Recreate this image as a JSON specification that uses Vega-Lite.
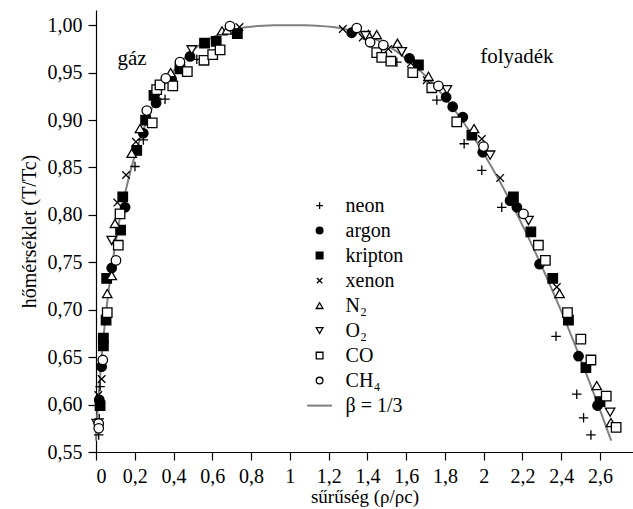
{
  "$schema": "https://vega.github.io/schema/vega-lite/v6.json",
  "width": 537,
  "height": 442,
  "autosize": {"type": "none"},
  "padding": {"left": 96, "top": 10, "right": 0, "bottom": 57},
  "background": "white",
  "config": {
    "view": {"stroke": null},
    "font": "Liberation Serif, DejaVu Serif, serif",
    "locale": {"number": {"decimal": ",", "thousands": " ", "grouping": [3], "currency": ["", ""]}},
    "axis": {
      "grid": false,
      "domainColor": "black",
      "domainWidth": 1.2,
      "tickColor": "black",
      "tickWidth": 1.2,
      "tickSize": 8,
      "labelFont": "Liberation Serif, DejaVu Serif, serif",
      "labelFontSize": 20,
      "labelColor": "black",
      "titleFont": "Liberation Serif, DejaVu Serif, serif",
      "titleFontSize": 20,
      "titleFontWeight": "normal",
      "titleColor": "black"
    },
    "legend": {
      "orient": "none",
      "legendX": 213.6,
      "legendY": 185.6,
      "padding": 0,
      "symbolSize": 45,
      "labelOffset": 16,
      "rowPadding": 5,
      "labelFont": "Liberation Serif, DejaVu Serif, serif",
      "labelFontSize": 20,
      "labelColor": "black",
      "labelLimit": 200
    }
  },
  "datasets": {
    "pts": [
      {"series": "neon", "rho": 0.52, "t": 0.964},
      {"series": "neon", "rho": 0.356, "t": 0.922},
      {"series": "neon", "rho": 0.244, "t": 0.879},
      {"series": "neon", "rho": 0.201, "t": 0.851},
      {"series": "neon", "rho": 0.021, "t": 0.619},
      {"series": "neon", "rho": 0.017, "t": 0.585},
      {"series": "neon", "rho": 0.014, "t": 0.568},
      {"series": "neon", "rho": 1.552, "t": 0.961},
      {"series": "neon", "rho": 1.758, "t": 0.921},
      {"series": "neon", "rho": 1.899, "t": 0.875},
      {"series": "neon", "rho": 1.99, "t": 0.847},
      {"series": "neon", "rho": 2.093, "t": 0.808},
      {"series": "neon", "rho": 2.373, "t": 0.672},
      {"series": "neon", "rho": 2.48, "t": 0.611},
      {"series": "neon", "rho": 2.515, "t": 0.586},
      {"series": "neon", "rho": 2.553, "t": 0.568},
      {"series": "argon", "rho": 0.485, "t": 0.967},
      {"series": "argon", "rho": 0.39, "t": 0.943},
      {"series": "argon", "rho": 0.31, "t": 0.918},
      {"series": "argon", "rho": 0.244, "t": 0.886},
      {"series": "argon", "rho": 0.15, "t": 0.808},
      {"series": "argon", "rho": 0.081, "t": 0.744},
      {"series": "argon", "rho": 0.029, "t": 0.64},
      {"series": "argon", "rho": 0.017, "t": 0.605},
      {"series": "argon", "rho": 1.319, "t": 0.992},
      {"series": "argon", "rho": 1.617, "t": 0.965},
      {"series": "argon", "rho": 1.806, "t": 0.924},
      {"series": "argon", "rho": 1.84, "t": 0.914},
      {"series": "argon", "rho": 1.892, "t": 0.903},
      {"series": "argon", "rho": 1.995, "t": 0.866},
      {"series": "argon", "rho": 2.136, "t": 0.815},
      {"series": "argon", "rho": 2.171, "t": 0.808},
      {"series": "argon", "rho": 2.288, "t": 0.748},
      {"series": "argon", "rho": 2.489, "t": 0.651},
      {"series": "argon", "rho": 2.587, "t": 0.599},
      {"series": "kripton", "rho": 0.729, "t": 0.991},
      {"series": "kripton", "rho": 0.56, "t": 0.981},
      {"series": "kripton", "rho": 0.62, "t": 0.983},
      {"series": "kripton", "rho": 0.433, "t": 0.954},
      {"series": "kripton", "rho": 0.299, "t": 0.926},
      {"series": "kripton", "rho": 0.256, "t": 0.9},
      {"series": "kripton", "rho": 0.21, "t": 0.868},
      {"series": "kripton", "rho": 0.138, "t": 0.819},
      {"series": "kripton", "rho": 0.127, "t": 0.784},
      {"series": "kripton", "rho": 0.055, "t": 0.733},
      {"series": "kripton", "rho": 0.052, "t": 0.689},
      {"series": "kripton", "rho": 0.038, "t": 0.67},
      {"series": "kripton", "rho": 0.038, "t": 0.662},
      {"series": "kripton", "rho": 0.021, "t": 0.599},
      {"series": "kripton", "rho": 1.663, "t": 0.958},
      {"series": "kripton", "rho": 1.939, "t": 0.884},
      {"series": "kripton", "rho": 2.153, "t": 0.819},
      {"series": "kripton", "rho": 2.243, "t": 0.782},
      {"series": "kripton", "rho": 2.356, "t": 0.733},
      {"series": "kripton", "rho": 2.437, "t": 0.689},
      {"series": "kripton", "rho": 2.527, "t": 0.639},
      {"series": "kripton", "rho": 2.6, "t": 0.603},
      {"series": "xenon", "rho": 0.74, "t": 0.998},
      {"series": "xenon", "rho": 0.32, "t": 0.925},
      {"series": "xenon", "rho": 0.206, "t": 0.877},
      {"series": "xenon", "rho": 0.155, "t": 0.842},
      {"series": "xenon", "rho": 0.11, "t": 0.813},
      {"series": "xenon", "rho": 0.029, "t": 0.627},
      {"series": "xenon", "rho": 0.012, "t": 0.61},
      {"series": "xenon", "rho": 1.273, "t": 0.996},
      {"series": "xenon", "rho": 1.376, "t": 0.987},
      {"series": "xenon", "rho": 1.508, "t": 0.975},
      {"series": "xenon", "rho": 1.624, "t": 0.96},
      {"series": "xenon", "rho": 1.706, "t": 0.942},
      {"series": "xenon", "rho": 1.99, "t": 0.88},
      {"series": "xenon", "rho": 2.085, "t": 0.839},
      {"series": "xenon", "rho": 2.377, "t": 0.724},
      {"series": "N₂", "rho": 0.65, "t": 0.994},
      {"series": "N₂", "rho": 0.676, "t": 0.995},
      {"series": "N₂", "rho": 0.385, "t": 0.95},
      {"series": "N₂", "rho": 0.227, "t": 0.891},
      {"series": "N₂", "rho": 0.184, "t": 0.865},
      {"series": "N₂", "rho": 0.098, "t": 0.791},
      {"series": "N₂", "rho": 0.081, "t": 0.736},
      {"series": "N₂", "rho": 0.058, "t": 0.717},
      {"series": "N₂", "rho": 1.405, "t": 0.99},
      {"series": "N₂", "rho": 1.448, "t": 0.99},
      {"series": "N₂", "rho": 1.555, "t": 0.981},
      {"series": "N₂", "rho": 1.715, "t": 0.946},
      {"series": "N₂", "rho": 1.95, "t": 0.891},
      {"series": "N₂", "rho": 2.391, "t": 0.717},
      {"series": "N₂", "rho": 2.583, "t": 0.62},
      {"series": "N₂", "rho": 2.656, "t": 0.581},
      {"series": "O₂", "rho": 0.494, "t": 0.974},
      {"series": "O₂", "rho": 0.081, "t": 0.773},
      {"series": "O₂", "rho": 0.004, "t": 0.58},
      {"series": "O₂", "rho": 1.39, "t": 0.989},
      {"series": "O₂", "rho": 1.577, "t": 0.972},
      {"series": "O₂", "rho": 1.81, "t": 0.932},
      {"series": "O₂", "rho": 2.033, "t": 0.863},
      {"series": "O₂", "rho": 2.231, "t": 0.794},
      {"series": "O₂", "rho": 2.652, "t": 0.592},
      {"series": "CO", "rho": 0.557, "t": 0.963},
      {"series": "CO", "rho": 0.602, "t": 0.969},
      {"series": "CO", "rho": 0.64, "t": 0.974},
      {"series": "CO", "rho": 0.471, "t": 0.951},
      {"series": "CO", "rho": 0.396, "t": 0.936},
      {"series": "CO", "rho": 0.313, "t": 0.932},
      {"series": "CO", "rho": 0.33, "t": 0.937},
      {"series": "CO", "rho": 0.29, "t": 0.897},
      {"series": "CO", "rho": 0.124, "t": 0.801},
      {"series": "CO", "rho": 0.115, "t": 0.768},
      {"series": "CO", "rho": 0.058, "t": 0.697},
      {"series": "CO", "rho": 1.448, "t": 0.971},
      {"series": "CO", "rho": 1.474, "t": 0.966},
      {"series": "CO", "rho": 1.521, "t": 0.962},
      {"series": "CO", "rho": 1.634, "t": 0.95},
      {"series": "CO", "rho": 1.732, "t": 0.934},
      {"series": "CO", "rho": 1.861, "t": 0.898},
      {"series": "CO", "rho": 2.282, "t": 0.768},
      {"series": "CO", "rho": 2.318, "t": 0.752},
      {"series": "CO", "rho": 2.432, "t": 0.697},
      {"series": "CO", "rho": 2.501, "t": 0.669},
      {"series": "CO", "rho": 2.553, "t": 0.647},
      {"series": "CO", "rho": 2.632, "t": 0.609},
      {"series": "CO", "rho": 2.683, "t": 0.576},
      {"series": "CH₄", "rho": 0.691, "t": 0.999},
      {"series": "CH₄", "rho": 0.433, "t": 0.961},
      {"series": "CH₄", "rho": 0.36, "t": 0.944},
      {"series": "CH₄", "rho": 0.262, "t": 0.91},
      {"series": "CH₄", "rho": 0.103, "t": 0.752},
      {"series": "CH₄", "rho": 0.035, "t": 0.647},
      {"series": "CH₄", "rho": 0.014, "t": 0.58},
      {"series": "CH₄", "rho": 0.014, "t": 0.575},
      {"series": "CH₄", "rho": 1.345, "t": 0.997},
      {"series": "CH₄", "rho": 1.414, "t": 0.982},
      {"series": "CH₄", "rho": 1.482, "t": 0.979},
      {"series": "CH₄", "rho": 1.766, "t": 0.936},
      {"series": "CH₄", "rho": 1.999, "t": 0.872},
      {"series": "CH₄", "rho": 2.205, "t": 0.801}
    ],
    "curve": [
      {"rho": 0.0, "t": 0.562},
      {"rho": 0.0044, "t": 0.58},
      {"rho": 0.0106, "t": 0.6},
      {"rho": 0.0175, "t": 0.62},
      {"rho": 0.0293, "t": 0.65},
      {"rho": 0.0535, "t": 0.7},
      {"rho": 0.085, "t": 0.75},
      {"rho": 0.1266, "t": 0.8},
      {"rho": 0.1827, "t": 0.85},
      {"rho": 0.2626, "t": 0.9},
      {"rho": 0.3313, "t": 0.93},
      {"rho": 0.3928, "t": 0.95},
      {"rho": 0.4788, "t": 0.97},
      {"rho": 0.54, "t": 0.98},
      {"rho": 0.6305, "t": 0.99},
      {"rho": 0.7045, "t": 0.995},
      {"rho": 0.781, "t": 0.998},
      {"rho": 0.8618, "t": 0.9995},
      {"rho": 0.9189, "t": 0.9999},
      {"rho": 1.0, "t": 1.0},
      {"rho": 1.0813, "t": 0.9999},
      {"rho": 1.1393, "t": 0.9995},
      {"rho": 1.222, "t": 0.998},
      {"rho": 1.303, "t": 0.995},
      {"rho": 1.3845, "t": 0.99},
      {"rho": 1.49, "t": 0.98},
      {"rho": 1.5662, "t": 0.97},
      {"rho": 1.6822, "t": 0.95},
      {"rho": 1.7737, "t": 0.93},
      {"rho": 1.8874, "t": 0.9},
      {"rho": 2.0423, "t": 0.85},
      {"rho": 2.1734, "t": 0.8},
      {"rho": 2.29, "t": 0.75},
      {"rho": 2.3965, "t": 0.7},
      {"rho": 2.4957, "t": 0.65},
      {"rho": 2.5525, "t": 0.62},
      {"rho": 2.5894, "t": 0.6},
      {"rho": 2.6256, "t": 0.58},
      {"rho": 2.6575, "t": 0.562}
    ],
    "notes": [
      {"label": "gáz", "rho": 0.186, "t": 0.9577},
      {"label": "folyadék", "rho": 2.171, "t": 0.96}
    ]
  },
  "encoding": {
    "x": {
      "field": "rho",
      "type": "quantitative",
      "scale": {"domain": [0, 2.77], "nice": false, "zero": false},
      "axis": {
        "title": "sűrűség (ρ/ρc)",
        "titleFontSize": 19,
        "values": [0, 0.2, 0.4, 0.6, 0.8, 1, 1.2, 1.4, 1.6, 1.8, 2, 2.2, 2.4, 2.6],
        "format": "~g",
        "labelPadding": 6,
        "titlePadding": 1
      }
    },
    "y": {
      "field": "t",
      "type": "quantitative",
      "scale": {"domain": [0.55, 1.016], "nice": false, "zero": false},
      "axis": {
        "title": "hőmérséklet (T/Tc)",
        "values": [0.55, 0.6, 0.65, 0.7, 0.75, 0.8, 0.85, 0.9, 0.95, 1.0],
        "format": ".2f",
        "labelPadding": 6,
        "titlePadding": 8
      }
    }
  },
  "layer": [
    {
      "data": {"name": "curve"},
      "mark": {"type": "line", "stroke": "#808080", "strokeWidth": 2, "interpolate": "monotone"},
      "encoding": {}
    },
    {
      "data": {"name": "pts"},
      "mark": {"type": "point", "size": 90, "opacity": 1},
      "encoding": {
        "shape": {
          "field": "series",
          "type": "nominal",
          "scale": {
            "domain": ["neon", "argon", "kripton", "xenon", "N₂", "O₂", "CO", "CH₄", "β = 1/3"],
            "range": ["M-1,0L1,0M0,-1L0,1", "circle", "square", "M-0.8,-0.8L0.8,0.8M-0.8,0.8L0.8,-0.8", "triangle-up", "triangle-down", "square", "circle", "M-3.7,0L3.7,0"]
          },
          "legend": {"title": null}
        },
        "fill": {
          "field": "series",
          "type": "nominal",
          "scale": {
            "domain": ["neon", "argon", "kripton", "xenon", "N₂", "O₂", "CO", "CH₄", "β = 1/3"],
            "range": ["transparent", "black", "black", "transparent", "white", "white", "white", "white", "transparent"]
          },
          "legend": {"title": null}
        },
        "stroke": {
          "field": "series",
          "type": "nominal",
          "scale": {
            "domain": ["neon", "argon", "kripton", "xenon", "N₂", "O₂", "CO", "CH₄", "β = 1/3"],
            "range": ["black", "black", "black", "black", "black", "black", "black", "black", "#808080"]
          },
          "legend": {"title": null}
        },
        "strokeWidth": {
          "field": "series",
          "type": "nominal",
          "scale": {
            "type": "ordinal",
            "domain": ["neon", "argon", "kripton", "xenon", "N₂", "O₂", "CO", "CH₄", "β = 1/3"],
            "range": [1.3, 1.3, 1.3, 1.3, 1.3, 1.3, 1.3, 1.3, 2]
          },
          "legend": {"title": null}
        }
      }
    },
    {
      "data": {"name": "notes"},
      "mark": {"type": "text", "font": "Liberation Serif, DejaVu Serif, serif", "fontSize": 21, "align": "center", "baseline": "alphabetic", "color": "black"},
      "encoding": {"text": {"field": "label", "type": "nominal"}}
    }
  ]
}
